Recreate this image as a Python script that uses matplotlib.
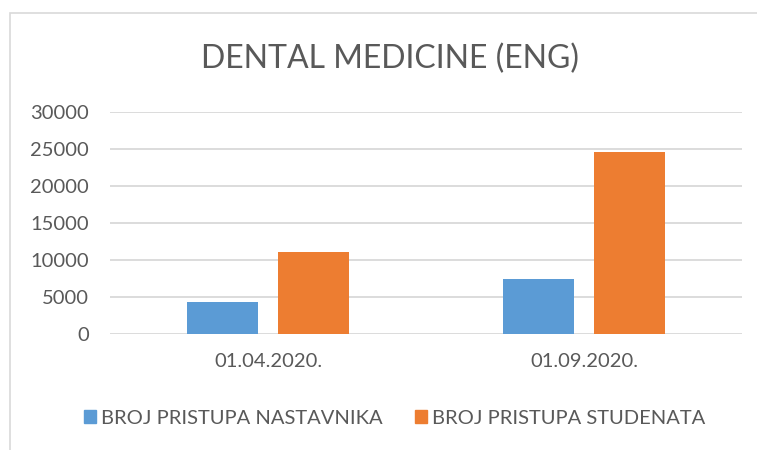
import numpy as np
import matplotlib.pyplot as plt
from matplotlib.patches import Rectangle, Patch

# Chart data
categories = ['01.04.2020.', '01.09.2020.']
nastavnici = [4300, 7400]
studenti = [11100, 24600]
series_names = ['BROJ PRISTUPA NASTAVNIKA', 'BROJ PRISTUPA STUDENATA']
yticks = [0, 5000, 10000, 15000, 20000, 25000, 30000]

blue = '#5B9BD5'
orange = '#ED7D31'
txt = '#595959'
grid = '#D9D9D9'

plt.rcParams['font.family'] = ['Lato', 'DejaVu Sans']

W, H = 757, 450
fig = plt.figure(figsize=(W / 100, H / 100), dpi=100)

# outer chart frame (runs off the right and bottom edges)
fig.patches.append(Rectangle((10 / W, -0.1), 1.2, (H - 13) / H + 0.1,
                             transform=fig.transFigure, fill=False,
                             edgecolor=grid, linewidth=1.2))

ax = fig.add_axes([110 / W, (H - 334) / H, 632 / W, 222 / H])

x = np.arange(len(categories))
w = 0.225
off = w / 2 + 0.032
ax.bar(x - off, nastavnici, w, color=blue, zorder=3)
ax.bar(x + off, studenti, w, color=orange, zorder=3)

ax.set_xlim(-0.5, len(categories) - 0.5)
ax.set_ylim(0, 30000)
ax.set_yticks(yticks)
ax.set_yticklabels([str(v) for v in yticks])
ax.set_xticks(x)
ax.set_xticklabels(categories)
ax.tick_params(length=0, labelsize=14.5, labelcolor=txt)
ax.tick_params(axis='y', pad=15)
ax.tick_params(axis='x', pad=14)
ax.yaxis.grid(True, color=grid, linewidth=1.3, zorder=0)
for s in ax.spines.values():
    s.set_visible(False)

fig.text(390 / W, 1 - 58.5 / H, 'DENTAL MEDICINE (ENG)', ha='center', va='center',
         fontsize=23, color=txt)

handles = [Patch(color=blue), Patch(color=orange)]
fig.legend(handles, series_names, loc='center', bbox_to_anchor=(395 / W, 1 - 418 / H),
           ncol=2, frameon=False, fontsize=14.5, labelcolor=txt,
           handlelength=0.6, handleheight=0.6, handletextpad=0.25, columnspacing=1.6,
           borderpad=0, borderaxespad=0)

fig.savefig('out.png', dpi=100)
